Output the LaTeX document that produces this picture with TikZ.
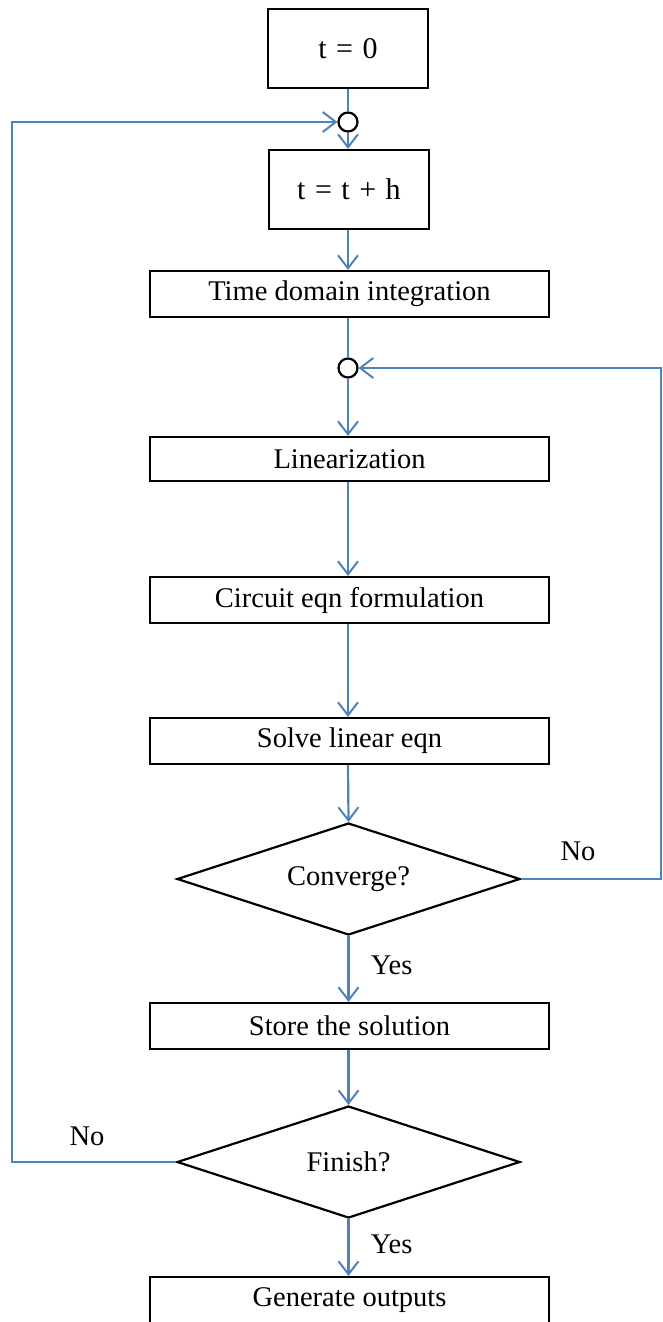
\documentclass[tikz,border=0pt]{standalone}
\usepackage{fontspec}
\setmainfont{Liberation Serif}
\usetikzlibrary{shapes.geometric,arrows.meta}
\definecolor{flowblue}{HTML}{4F81BD}
\newlength{\widespace}
\begin{document}
\begin{tikzpicture}[x=1pt,y=-1pt,
  every node/.style={font=\fontsize{28.5}{32}\selectfont},
  box/.style={draw=black,line width=2.2pt,inner sep=0pt,minimum width=#1,fill=white},
  bigbox/.style={box=160pt,minimum height=79pt,font=\fontsize{30}{34}\selectfont,
    execute at begin node={\setlength{\widespace}{9.5pt}\spaceskip=\widespace\relax}},
  decision/.style={diamond,draw=black,line width=2.2pt,inner sep=0pt,minimum width=343pt,minimum height=112pt,aspect=3.06},
  junction/.style={circle,draw=black,line width=2.2pt,fill=white,inner sep=0pt,minimum size=19pt},
  link/.style={draw=flowblue,line width=2.2pt},
  arr/.style={link,-{Straight Barb[length=13pt,width=20pt,line width=2pt]}},
  lbl/.style={font=\fontsize{28.5}{32}\selectfont}]
\useasboundingbox (0,0) rectangle (662,1322);
\node[bigbox] (t0) at (348,48.5) {t = 0};
\node[junction] (c1) at (348,122) {};
\node[bigbox] (th) at (349,189.5) {t = t + h};
\node[box=399pt,minimum height=46pt] (tdi) at (349.5,294) {Time domain integration};
\node[junction] (c2) at (348,368) {};
\node[box=399pt,minimum height=44pt] (lin) at (349.5,459) {Linearization};
\node[box=399pt,minimum height=46pt] (cef) at (349.5,600) {Circuit eqn formulation};
\node[box=399pt,minimum height=46pt] (sle) at (349.5,741) {Solve linear eqn};
\node[decision] (conv) at (348.5,879) {Converge?};
\node[box=399pt,minimum height=46pt] (sto) at (349.5,1026) {Store the solution};
\node[decision] (fin) at (348.5,1162) {Finish?};
\node[box=399pt,minimum height=46pt] (gen) at (349.5,1300) {Generate outputs};
\coordinate (lb) at (12,1162);
\coordinate (lt) at (12,122);
\coordinate (rb) at (661,879);
\coordinate (rt) at (661,368);
% connectors
\draw[link] (t0.south -| c1) -- (c1.north);
\draw[arr] (c1.south) -- (c1.south |- th.north);
\draw[arr] (th.south -| c1) -- (c1 |- tdi.north);
\draw[link] (tdi.south -| c2) -- (c2.north);
\draw[arr] (c2.south) -- (c2 |- lin.north);
\draw[arr] (lin.south -| c2) -- (c2 |- cef.north);
\draw[arr] (cef.south -| c2) -- (c2 |- sle.north);
\draw[arr] (sle.south -| c2) -- (conv.north);
\draw[arr] (conv.south) -- node[lbl,right=18pt,pos=0.45]{Yes} (conv.south |- sto.north);
\draw[arr] (sto.south -| fin) -- (fin.north);
\draw[arr] (fin.south) -- node[lbl,right=18pt,pos=0.45]{Yes} (fin.south |- gen.north);
\draw[arr] (conv.east) -- (rb) -- (rt) -- (c2.east);
\draw[arr] (fin.west) -- (lb) -- (lt) -- (c1.west);
\node[lbl] (no1) at (578,851) {No};
\node[lbl] (no2) at (87,1136) {No};
\end{tikzpicture}
\end{document}
